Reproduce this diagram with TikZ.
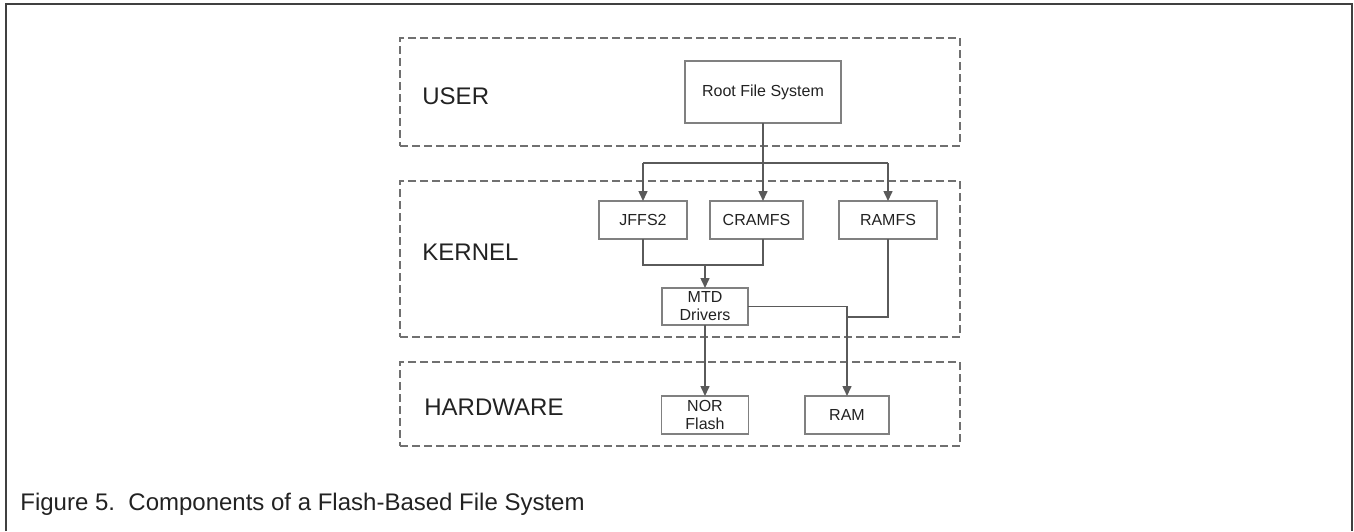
\documentclass[tikz,border=0pt]{standalone}
\usepackage{fontspec}
\setmainfont{Liberation Sans}
\usetikzlibrary{arrows.meta}
\definecolor{dashgray}{HTML}{707070}
\definecolor{boxgray}{HTML}{808080}
\definecolor{linegray}{HTML}{5A5A5A}
\definecolor{framegray}{HTML}{404040}
\definecolor{txt}{HTML}{222222}
\begin{document}
\begin{tikzpicture}[x=0.5pt,y=-0.5pt,
  region/.style={draw=dashgray, line width=1pt, dash pattern=on 4pt off 2pt, inner sep=0pt, outer sep=0pt},
  comp/.style={draw=boxgray, line width=0.7pt, inner sep=0pt, outer sep=0pt, text=txt, font=\fontsize{8}{9}\selectfont, align=center},
  lbl/.style={font=\fontsize{12}{14}\selectfont, anchor=west, inner sep=0pt, text=txt},
  conn/.style={draw=linegray, line width=0.75pt},
  arr/.style={conn, -{Triangle[length=5pt,width=4.5pt]}},
]
\useasboundingbox (0,0) rectangle (1354,531);
\draw[framegray, line width=1.3pt] (6,531) -- (6,4) -- (1352,4) -- (1352,531);

% regions
\node[region, minimum width=280pt, minimum height=54pt] (user) at (680,92) {};
\node[region, minimum width=280pt, minimum height=78pt] (kernel) at (680,259) {};
\node[region, minimum width=280pt, minimum height=42pt] (hw) at (680,404) {};

\node[lbl] (userlbl) at (422,96) {USER};
\node[lbl] (kernlbl) at (422,252) {KERNEL};
\node[lbl] (hwlbl) at (424,407) {HARDWARE};

% components
\node[comp, minimum width=78pt, minimum height=31pt] (root) at (763,92) {Root File System};
\node[comp, minimum width=44pt, minimum height=19pt] (jffs) at (643,220) {JFFS2};
\node[comp, minimum width=46.5pt, minimum height=19pt] (cram) at (756.5,220) {CRAMFS};
\node[comp, minimum width=49pt, minimum height=19pt] (ramfs) at (888,220) {RAMFS};
\node[comp, minimum width=43pt, minimum height=18.5pt] (mtd) at (705,306.5) {MTD\\Drivers};
\node[comp, minimum width=43.5pt, minimum height=19pt] (nor) at (705,415) {NOR\\Flash};
\node[comp, minimum width=42pt, minimum height=19pt] (ram) at (847,415) {RAM};

% connectors
\coordinate (branch) at (763,163);
\coordinate (bl) at (643,163);
\coordinate (br) at (888,163);
\coordinate (join) at (705,265);
\coordinate (cj) at (763,265);
\coordinate (rj) at (847,317);

\draw[conn] (root.south) -- (branch);
\draw[conn] (bl) -- (br);
\draw[arr] (bl) -- (bl |- jffs.north);
\draw[arr] (branch) -- (branch |- cram.north);
\draw[arr] (br) -- (br |- ramfs.north);

\draw[conn] (jffs.south) |- (cj) -- (branch |- cram.south);
\draw[arr] (join) -- (mtd.north);

\draw[arr] (mtd.east) -| (ram.north);
\draw[conn] (ramfs.south) |- (rj);
\draw[arr] (mtd.south) -- (nor.north);

% caption
\node[anchor=base west, inner sep=0pt, font=\fontsize{12}{14}\selectfont, text=txt] (cap) at (20,510) {Figure 5.\ \ Components of a Flash-Based File System};
\end{tikzpicture}
\end{document}
